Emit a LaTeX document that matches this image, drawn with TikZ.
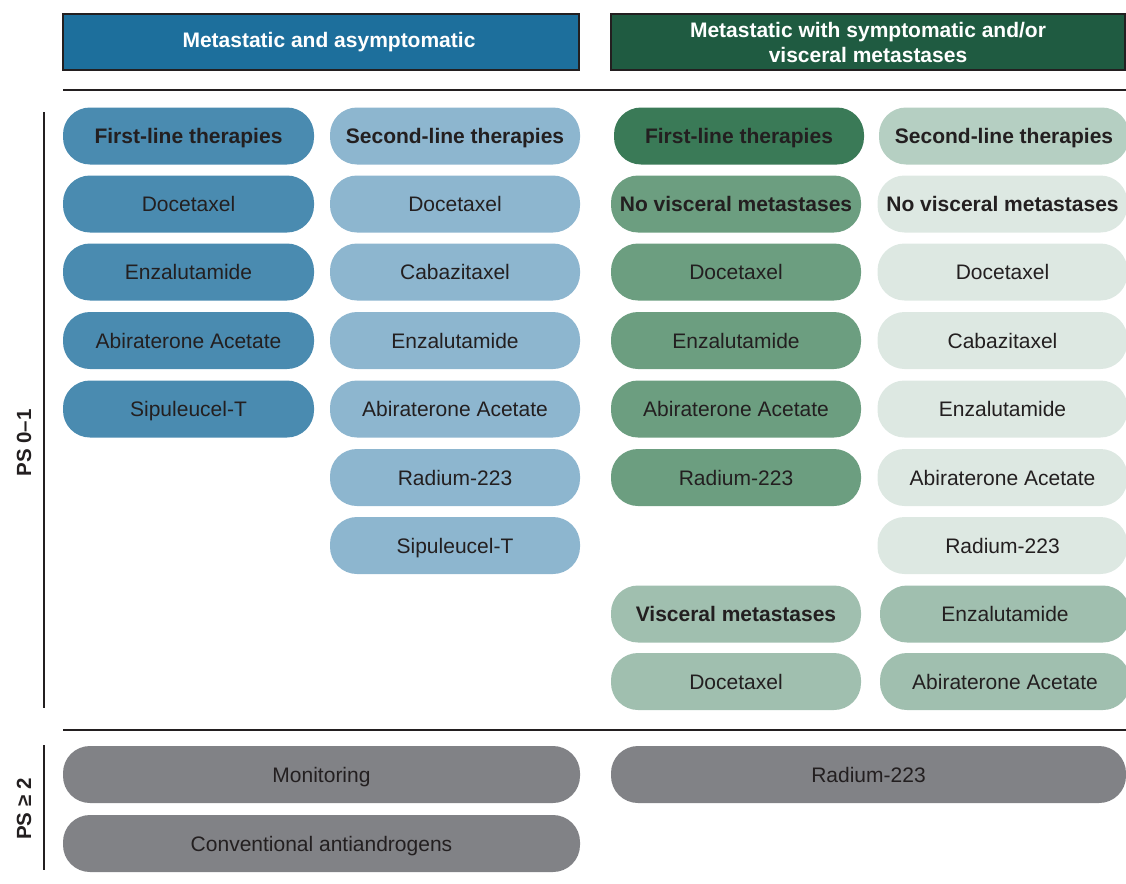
\documentclass[tikz,border=0pt]{standalone}
\usepackage{fontspec}
\setmainfont{Liberation Sans}
\definecolor{txt}{HTML}{231F20}
\definecolor{hblue}{HTML}{1D6F9C}
\definecolor{hgreen}{HTML}{1F5B41}
\definecolor{cA}{HTML}{4A8BB0}
\definecolor{cB}{HTML}{8DB6CF}
\definecolor{cC}{HTML}{3A7A57}
\definecolor{cD}{HTML}{6C9E80}
\definecolor{cE}{HTML}{A0BFAF}
\definecolor{cF}{HTML}{B5CFC2}
\definecolor{cG}{HTML}{DDE8E2}
\definecolor{cgrey}{HTML}{818286}
\tikzset{
  pill/.style={rectangle, rounded corners=27pt, minimum height=57pt, inner sep=0pt,
    text height=15pt, text depth=0pt,
    text=txt, font=\fontsize{21}{25}\selectfont},
  pillb/.style={pill, font=\fontsize{21}{25}\selectfont\bfseries},
  cw/.style={minimum width=250pt},
  header/.style={rectangle, draw=txt, line width=1.5pt, inner sep=0pt, text=white,
    align=center, font=\fontsize{21}{25}\selectfont\bfseries},
  rule/.style={draw=txt, line width=1.5pt},
  side/.style={rotate=90, text=txt, font=\fontsize{20.5}{24}\selectfont\bfseries}
}
\begin{document}
\begin{tikzpicture}[x=1pt,y=-1pt]
\useasboundingbox (0,0) rectangle (1126,883);
\clip (0,0) rectangle (1126,883);
% headers
\node[header, fill=hblue, minimum width=516pt, minimum height=56pt] (h1) at (321,42) {};
\node[text=white, font=\fontsize{21}{25}\selectfont\bfseries] (h1t) at (329,42) {Metastatic and asymptomatic};
\node[header, fill=hgreen, minimum width=514pt, minimum height=56pt] (h2) at (868,42) {Metastatic with symptomatic and/or\\visceral metastases};
% rules
\draw[rule] (63,90) -- (1126,90);
\draw[rule] (63,730) -- (1126,730);
\draw[rule, line width=1.3pt] (44,112) -- (44,708);
\draw[rule, line width=1.3pt] (44,745) -- (44,870);
\node[side] (ps1) at (24,443) {PS 0–1};
\node[side] (ps2) at (24,809) {PS ≥ 2};
% column 1
\node[pillb, minimum width=251pt, fill=cA] (a1) at (188.5,136) {First-line therapies};
\node[pill, minimum width=251pt, fill=cA] (a2) at (188.5,204) {Docetaxel};
\node[pill, minimum width=251pt, fill=cA] (a3) at (188.5,272) {Enzalutamide};
\node[pill, minimum width=251pt, fill=cA] (a4) at (188.5,340.5) {Abiraterone Acetate};
\node[pill, minimum width=251pt, fill=cA] (a5) at (188.5,409) {Sipuleucel-T};
% column 2
\node[pillb, cw, fill=cB] (b1) at (455,136) {Second-line therapies};
\node[pill, cw, fill=cB] (b2) at (455,204) {Docetaxel};
\node[pill, cw, fill=cB] (b3) at (455,272) {Cabazitaxel};
\node[pill, cw, fill=cB] (b4) at (455,340.5) {Enzalutamide};
\node[pill, cw, fill=cB] (b5) at (455,409) {Abiraterone Acetate};
\node[pill, cw, fill=cB] (b6) at (455,477.5) {Radium-223};
\node[pill, cw, fill=cB] (b7) at (455,545.5) {Sipuleucel-T};
% column 3
\node[pillb, cw, fill=cC] (c1) at (739,136) {First-line therapies};
\node[pillb, cw, fill=cD] (c2) at (736,204) {No visceral metastases};
\node[pill, cw, fill=cD] (c3) at (736,272) {Docetaxel};
\node[pill, cw, fill=cD] (c4) at (736,340.5) {Enzalutamide};
\node[pill, cw, fill=cD] (c5) at (736,409) {Abiraterone Acetate};
\node[pill, cw, fill=cD] (c6) at (736,477.5) {Radium-223};
\node[pillb, cw, fill=cE] (c8) at (736,614) {Visceral metastases};
\node[pill, cw, fill=cE] (c9) at (736,681.5) {Docetaxel};
% column 4
\node[pillb, cw, fill=cF] (d1) at (1004,136) {Second-line therapies};
\node[pillb, cw, fill=cG] (d2) at (1002.5,204) {No visceral metastases};
\node[pill, cw, fill=cG] (d3) at (1002.5,272) {Docetaxel};
\node[pill, cw, fill=cG] (d4) at (1002.5,340.5) {Cabazitaxel};
\node[pill, cw, fill=cG] (d5) at (1002.5,409) {Enzalutamide};
\node[pill, cw, fill=cG] (d6) at (1002.5,477.5) {Abiraterone Acetate};
\node[pill, cw, fill=cG] (d7) at (1002.5,545.5) {Radium-223};
\node[pill, cw, fill=cE] (d8) at (1005,614) {Enzalutamide};
\node[pill, cw, fill=cE] (d9) at (1005,681.5) {Abiraterone Acetate};
% PS >= 2
\node[pill, minimum width=517pt, fill=cgrey] (g1) at (321.5,774.5) {Monitoring};
\node[pill, minimum width=517pt, fill=cgrey] (g2) at (321.5,843.5) {Conventional antiandrogens};
\node[pill, minimum width=515pt, fill=cgrey] (g3) at (868.5,774.5) {Radium-223};
\end{tikzpicture}
\end{document}
